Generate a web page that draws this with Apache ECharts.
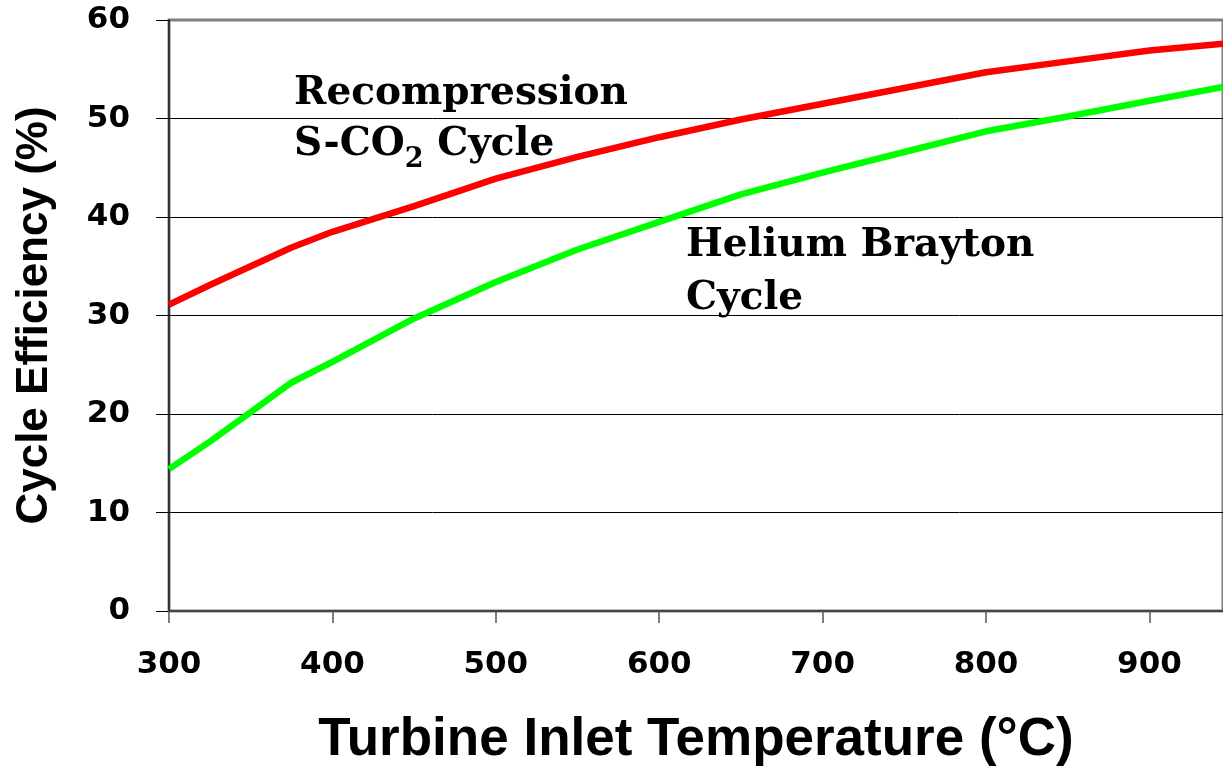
<!DOCTYPE html>
<html>
<head>
<meta charset="utf-8">
<script src="https://cdn.jsdelivr.net/npm/echarts@6/dist/echarts.min.js"></script>
<style>
html,body{margin:0;padding:0;background:#fff;}
#chart{width:1223px;height:772px;}
</style>
</head>
<body>
<div id="chart"></div>
<script>
// Data
const temperatures = [300, 325, 350, 375, 400, 450, 500, 550, 600, 650, 700, 750, 800, 850, 900, 945];
const recompressionSCO2 = [31.1, 33.1, 35.0, 36.9, 38.5, 41.1, 43.9, 46.1, 48.1, 49.9, 51.5, 53.1, 54.7, 55.8, 56.9, 57.6];
const heliumBrayton = [14.4, 17.2, 20.2, 23.2, 25.3, 29.7, 33.4, 36.7, 39.5, 42.3, 44.5, 46.6, 48.7, 50.2, 51.8, 53.2];
const xTicks = [300, 400, 500, 600, 700, 800, 900];
const yTicks = [0, 10, 20, 30, 40, 50, 60];

const pair = (xs, ys) => xs.map((x, i) => [x, ys[i]]);

const chart = echarts.init(document.getElementById('chart'), null, {renderer: 'canvas'});
const tickFont = {fontFamily: 'DejaVu Sans', fontWeight: 'bold', fontSize: 31, color: '#000'};
const serif = 'bold 39px "DejaVu Serif"';

chart.setOption({
  animation: false,
  backgroundColor: '#fff',
  grid: {left: 169, top: 20, right: -3, bottom: 158, show: true, borderColor: '#808080', borderWidth: 3, backgroundColor: 'transparent'},
  xAxis: {
    type: 'value', min: 300, max: 945, interval: 100,
    name: 'Turbine Inlet Temperature (\u00B0C)',
    nameLocation: 'middle', nameGap: 103,
    nameTextStyle: {fontFamily: 'Liberation Sans', fontWeight: 'bold', fontSize: 53, color: '#000'},
    axisLine: {show: true, lineStyle: {color: '#444', width: 2}},
    axisTick: {show: true, inside: false, length: 12, lineStyle: {color: '#555', width: 1.5}},
    axisLabel: Object.assign({margin: 38, showMaxLabel: false}, tickFont),
    splitLine: {show: false}
  },
  yAxis: {
    type: 'value', min: 0, max: 60, interval: 10,
    name: 'Cycle Efficiency (%)',
    nameLocation: 'middle', nameGap: 112,
    nameTextStyle: {fontFamily: 'Liberation Sans', fontWeight: 'bold', fontSize: 44, color: '#000'},
    axisLine: {show: true, lineStyle: {color: '#333', width: 2}},
    axisTick: {show: true, inside: false, length: 13, lineStyle: {color: '#000', width: 1}},
    axisLabel: Object.assign({margin: 39}, tickFont),
    splitLine: {show: true, showMinLine: false, showMaxLine: false, lineStyle: {color: '#000', width: 1}}
  },
  series: [
    {
      name: 'Recompression S-CO2 Cycle', type: 'line', data: pair(temperatures, recompressionSCO2),
      showSymbol: false, smooth: false, lineStyle: {color: '#ff0000', width: 6.5}, z: 3
    },
    {
      name: 'Helium Brayton Cycle', type: 'line', data: pair(temperatures, heliumBrayton),
      showSymbol: false, smooth: false, lineStyle: {color: '#00ff00', width: 6.5}, z: 3
    }
  ],
  graphic: [
    {type: 'text', left: 294, top: 74, z: 10, style: {text: 'Recompression', font: serif, fill: '#000'}},
    {type: 'text', left: 294, top: 125, z: 10, style: {
      text: '{a|S-CO}{s|2}{a| Cycle}', fill: '#000',
      rich: {
        a: {fontFamily: 'DejaVu Serif', fontWeight: 'bold', fontSize: 39, lineHeight: 58, verticalAlign: 'middle'},
        s: {fontFamily: 'DejaVu Serif', fontWeight: 'bold', fontSize: 27, lineHeight: 27, verticalAlign: 'bottom'}
      }
    }},
    {type: 'text', left: 686, top: 226, z: 10, style: {text: 'Helium Brayton', font: serif, fill: '#000'}},
    {type: 'text', left: 686, top: 279, z: 10, style: {text: 'Cycle', font: serif, fill: '#000'}}
  ]
});
</script>
</body>
</html>
